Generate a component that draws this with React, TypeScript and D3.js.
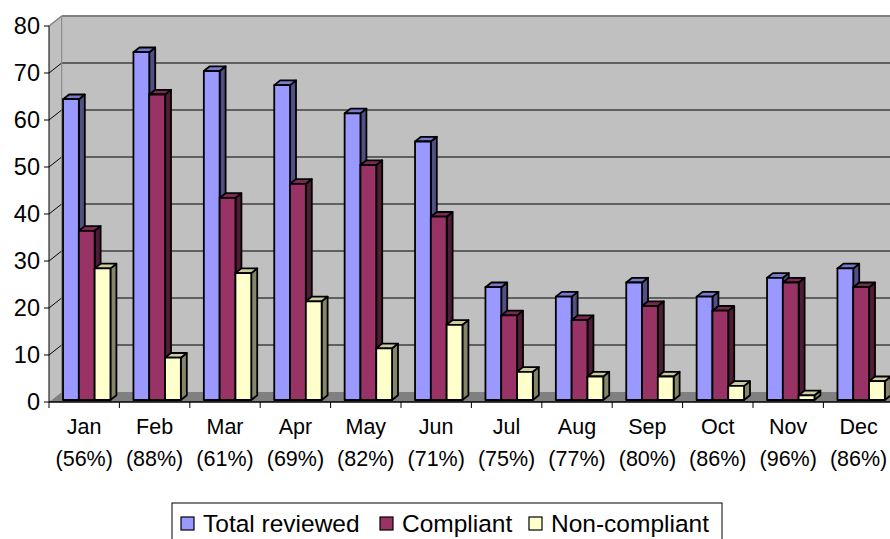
import React from "react";
import { scaleBand, scaleLinear, color as d3color } from "d3";

// chart data
const months = ["Jan", "Feb", "Mar", "Apr", "May", "Jun", "Jul", "Aug", "Sep", "Oct", "Nov", "Dec"];
const pctLabels = ["(56%)", "(88%)", "(61%)", "(69%)", "(82%)", "(71%)", "(75%)", "(77%)", "(80%)", "(86%)", "(96%)", "(86%)"];
const totalReviewed = [64, 74, 70, 67, 61, 55, 24, 22, 25, 22, 26, 28];
const compliant = [36, 65, 43, 46, 50, 39, 18, 17, 20, 19, 25, 24];
const nonCompliant = [28, 9, 27, 21, 11, 16, 6, 5, 5, 3, 1, 4];
const yTicks = [0, 10, 20, 30, 40, 50, 60, 70, 80];

const seriesNames = ["Total reviewed", "Compliant", "Non-compliant"];
const seriesColors = ["#9999FF", "#993366", "#FFFFCC"];
const seriesData = [totalReviewed, compliant, nonCompliant];

const W = 890;
const H = 539;

// 3d box
const left = 49;
const catW = 70.4;
const DX = 12.7;
const DY = 10;
const t0 = 0.2;
const t1 = 0.67;

const font = "Liberation Sans, Arial, sans-serif";

const shade = (c: string, k: number) => {
  const col = d3color(c)!.rgb();
  return `rgb(${Math.round(col.r * k)},${Math.round(col.g * k)},${Math.round(col.b * k)})`;
};

const pts = (p: number[][]) => p.map((d) => d.join(",")).join(" ");

const App = () => {
  const x0 = scaleBand<string>()
    .domain(months)
    .range([left, left + catW * months.length]);
  const x1 = scaleBand<string>()
    .domain(seriesNames)
    .range([11.5, catW - 11.5]);
  const y = scaleLinear().domain([0, 80]).range([402, 26]);

  const right = left + catW * months.length;
  const y0 = y(0);
  const yTop = y(80);
  const bw = x1.bandwidth();
  const bdx = (t1 - t0) * DX;
  const bdy = (t1 - t0) * DY;

  return (
    <div style={{ position: "absolute", left: 0, top: 0 }}>
      <svg width={W} height={H} style={{ display: "block", background: "#fff" }}>
        {/* back wall */}
        <rect x={left + DX} y={yTop - DY} width={right - left} height={y0 - yTop} fill="#C0C0C0" />
        {/* left wall */}
        <polygon
          points={pts([[left, yTop], [left + DX, yTop - DY], [left + DX, y0 - DY], [left, y0]])}
          fill="#C0C0C0"
        />
        {/* floor */}
        <polygon
          points={pts([[left, y0], [left + DX, y0 - DY], [right + DX, y0 - DY], [right, y0]])}
          fill="#808080"
        />
        {/* gridlines */}
        {yTicks.filter((t) => t > 0 && t < 80).map((t) => (
          <g key={t}>
            <line x1={left + DX} x2={right + DX} y1={y(t) - DY} y2={y(t) - DY} stroke="#000" strokeWidth={1} />
            <line x1={left} x2={left + DX} y1={y(t)} y2={y(t) - DY} stroke="#000" strokeWidth={1} />
          </g>
        ))}
        {/* wall edges */}
        <line x1={left + DX} x2={right + DX} y1={yTop - DY} y2={yTop - DY} stroke="#808080" strokeWidth={2} />
        <line x1={left} x2={left + DX} y1={yTop} y2={yTop - DY} stroke="#808080" strokeWidth={1.5} />
        <line x1={left + DX} x2={left + DX} y1={yTop - DY} y2={y0 - DY} stroke="#808080" strokeWidth={1} />

        {/* bars */}
        {months.map((m, i) => (
          <g key={m}>
            {seriesNames.map((s, j) => {
              const v = seriesData[j][i];
              const c = seriesColors[j];
              const fx = (x0(m) as number) + (x1(s) as number) + t0 * DX;
              const fy = y(v) - t0 * DY;
              const fb = y0 - t0 * DY;
              return (
                <g key={s} stroke="#000" strokeWidth={1.8} strokeLinejoin="round">
                  <polygon
                    points={pts([[fx + bw, fy], [fx + bw + bdx, fy - bdy], [fx + bw + bdx, fb - bdy], [fx + bw, fb]])}
                    fill={shade(c, 0.52)}
                  />
                  <polygon
                    points={pts([[fx, fy], [fx + bw, fy], [fx + bw + bdx, fy - bdy], [fx + bdx, fy - bdy]])}
                    fill={shade(c, 0.8)}
                  />
                  <rect x={fx} y={fy} width={bw} height={fb - fy} fill={c} />
                </g>
              );
            })}
          </g>
        ))}

        {/* axes */}
        <line x1={left} x2={left} y1={yTop} y2={y0} stroke="#000" strokeWidth={1} />
        <line x1={left} x2={right} y1={y0} y2={y0} stroke="#000" strokeWidth={1.5} />
        {yTicks.map((t) => (
          <g key={t}>
            <line x1={left - 5} x2={left} y1={y(t)} y2={y(t)} stroke="#000" />
            <text x={40} y={y(t)} dy="0.36em" textAnchor="end" fontFamily={font} fontSize={23.5} fill="#000">
              {t}
            </text>
          </g>
        ))}
        {months.map((m, i) => (
          <g key={m}>
            <line x1={x0(m)} x2={x0(m)} y1={y0} y2={y0 + 6} stroke="#000" />
            <text textAnchor="middle" fontFamily={font} fontSize={21.5} fill="#000">
              <tspan x={(x0(m) as number) + catW / 2} y={434}>{m}</tspan>
              <tspan x={(x0(m) as number) + catW / 2} y={466}>{pctLabels[i]}</tspan>
            </text>
          </g>
        ))}

        {/* legend */}
        <rect x={172} y={503} width={550} height={50} fill="#fff" stroke="#000" strokeWidth={1} />
        {seriesNames.map((s, j) => {
          const lx = [181, 380, 529][j];
          return (
            <g key={s}>
              <rect x={lx} y={517} width={13} height={13} fill={seriesColors[j]} stroke="#000" strokeWidth={1.2} />
              <text x={lx + 22} y={532} fontFamily={font} fontSize={24.5} fill="#000">
                {s}
              </text>
            </g>
          );
        })}
      </svg>
    </div>
  );
};

export default App;
